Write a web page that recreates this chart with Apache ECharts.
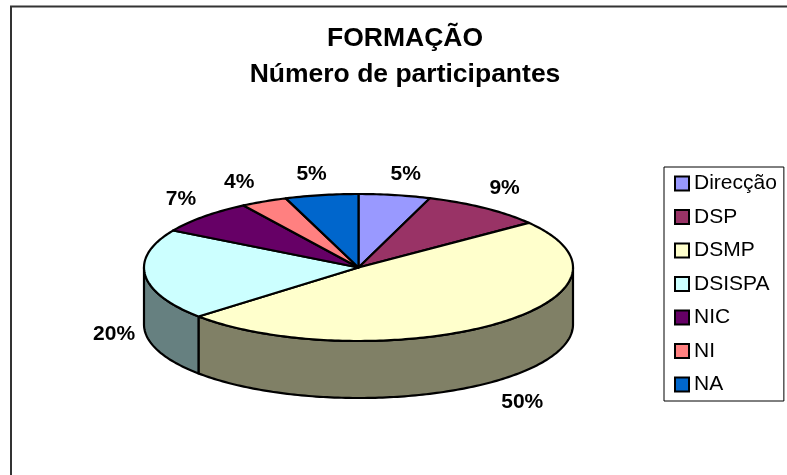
<!DOCTYPE html>
<html lang="pt">
<head>
    <meta charset="utf-8">
    <title>Formação</title>
    <script src="https://cdn.jsdelivr.net/npm/echarts@6/dist/echarts.min.js"></script>
    <style>
        html, body { margin: 0; padding: 0; background: #fff; }
        #main { width: 787px; height: 475px; }
    </style>
</head>
<body>
    <div id="main"></div>
    <script>
        var categories = ['Direcção', 'DSP', 'DSMP', 'DSISPA', 'NIC', 'NI', 'NA'];
        // slice sizes as they are drawn in the picture (%)
        var shares = [5.4, 9.2, 48.8, 20, 7.6, 3.5, 5.5];
        // printed labels are not the same rounding as the drawn sizes
        var percentLabels = ['5%', '9%', '50%', '20%', '7%', '4%', '5%'];
        var topColors = ['#9999FF', '#993366', '#FFFFCC', '#CCFFFF', '#660066', '#FF8080', '#0066CC'];
        var wallColors = ['#4D4D80', '#4D1A33', '#808066', '#668080', '#330033', '#804040', '#003366'];

        // pie layout
        var cx = 358.5, cy = 267.5, rx = 214.5, ry = 73.5, depth = 57;
        var fontFamily = '"Liberation Sans", Arial, sans-serif';
        // nudge of each label from its slice's rim point
        var labelNudge = [[11, -21], [20, -20], [27, 21], [-31, 2], [-23, -17], [-25, -19], [-10, -21]];

        var total = shares.reduce(function (a, b) { return a + b; }, 0);

        function rimPoint(deg, drop) {
            var r = deg * Math.PI / 180;
            return [cx + rx * Math.sin(r), cy - ry * Math.cos(r) + (drop || 0)];
        }

        function arcPoints(from, to, drop) {
            var pts = [];
            var n = Math.max(2, Math.ceil(Math.abs(to - from)));
            for (var i = 0; i <= n; i++) {
                pts.push(rimPoint(from + (to - from) * i / n, drop));
            }
            return pts;
        }

        var lineStyle = { stroke: '#000', lineWidth: 2.2, lineJoin: 'round' };

        function makeSeries(name, idx) {
            var start = 0;
            for (var i = 0; i < idx; i++) start += shares[i];
            var a0 = start / total * 360;
            var a1 = (start + shares[idx]) / total * 360;

            return {
                type: 'custom',
                name: name,
                coordinateSystem: 'none',
                silent: true,
                animation: false,
                itemStyle: { color: topColors[idx], borderColor: '#000', borderWidth: 2 },
                data: [[shares[idx]]],
                renderItem: function () {
                    var children = [];
                    // front wall only shows between 90 and 270 degrees
                    var w0 = Math.max(a0, 90), w1 = Math.min(a1, 270);
                    if (w1 > w0) {
                        var upper = arcPoints(w0, w1, 0);
                        var lower = arcPoints(w1, w0, depth);
                        children.push({
                            type: 'polygon',
                            shape: { points: upper.concat(lower) },
                            style: Object.assign({ fill: wallColors[idx] }, lineStyle)
                        });
                    }
                    children.push({
                        type: 'polygon',
                        shape: { points: [[cx, cy]].concat(arcPoints(a0, a1, 0)) },
                        style: Object.assign({ fill: topColors[idx] }, lineStyle)
                    });
                    var mid = (a0 + a1) / 2;
                    var front = mid > 90 && mid < 270;
                    var p = rimPoint(mid, front ? depth : 0);
                    children.push({
                        type: 'text',
                        z2: 10,
                        style: {
                            x: p[0] + labelNudge[idx][0],
                            y: p[1] + labelNudge[idx][1],
                            text: percentLabels[idx],
                            fill: '#000',
                            align: 'center',
                            verticalAlign: 'middle',
                            font: 'bold 21px ' + fontFamily
                        }
                    });
                    return { type: 'group', children: children };
                }
            };
        }

        var myChart = echarts.init(document.getElementById('main'), null, { renderer: 'canvas' });
        var option = {
            backgroundColor: '#fff',
            animation: false,
            title: {
                text: 'FORMAÇÃO\nNúmero de participantes',
                left: 400,
                top: 16,
                textAlign: 'center',
                textStyle: {
                    fontFamily: fontFamily,
                    fontSize: 26.5,
                    fontWeight: 'bold',
                    color: '#000',
                    lineHeight: 36
                }
            },
            legend: {
                orient: 'vertical',
                left: 664,
                top: 167,
                padding: [6, 7, 6, 10],
                itemWidth: 14,
                itemHeight: 14,
                itemGap: 12.5,
                icon: 'rect',
                borderColor: '#000',
                borderWidth: 1,
                selectedMode: false,
                data: categories,
                textStyle: {
                    fontFamily: fontFamily,
                    fontSize: 21,
                    color: '#000',
                    padding: [0, 0, 0, 0]
                }
            },
            graphic: [{
                type: 'rect',
                // only the top and left edges of the frame fall inside the picture
                shape: { x: 11, y: 6.5, width: 800, height: 500 },
                style: { fill: 'none', stroke: '#333', lineWidth: 2 },
                silent: true,
                z: -1
            }],
            series: categories.map(makeSeries)
        };
        myChart.setOption(option);
    </script>
</body>
</html>
